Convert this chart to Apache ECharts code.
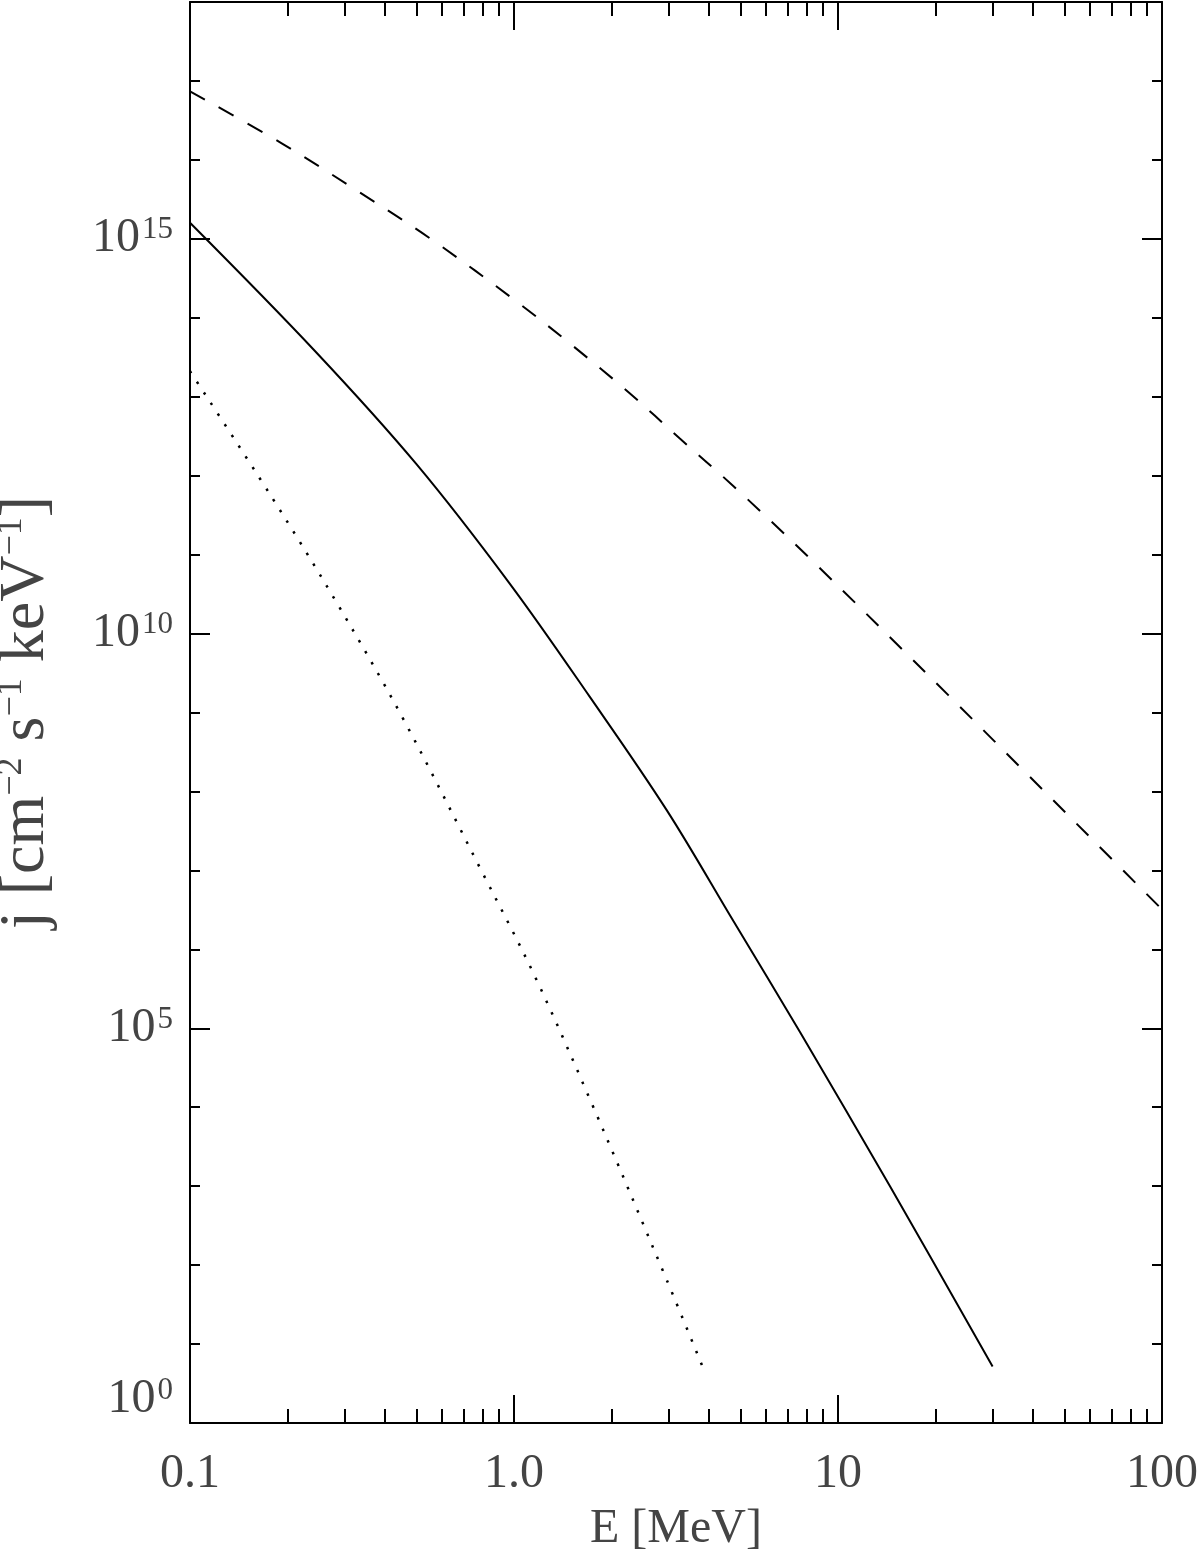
<!DOCTYPE html>
<html><head><meta charset="utf-8">
<script src="https://cdn.jsdelivr.net/npm/echarts@6/dist/echarts.min.js"></script>
<style>html,body{margin:0;padding:0;background:#fff;}#main{width:1200px;height:1558px;}</style>
</head><body><div id="main"></div>
<script>
// ---- data (E in MeV, j in cm^-2 s^-1 keV^-1) ----
const dashedE = [0.1,0.193,0.33,0.557,1.03,1.52,2.28,3.25,4.75,8.2,21.9,37.3,63.8,100];
const dashedJ = [7.4e16,1.6e16,4.0e15,9.8e14,1.55e14,4.4e13,1.1e13,2.95e12,7.4e11,8.9e10,1.66e9,1.86e8,2.04e7,3.2e6];
const solidE = [0.1,0.243,0.5,0.97,1.71,2.96,4.75,7.64,14.5,30];
const solidJ = [1.6e15,3.8e13,1.4e12,4.3e10,1.6e9,5.8e7,2.3e6,8.9e4,980,5.2];
const dottedE = [0.1,0.178,0.283,0.455,0.804,1.15,1.71,2.96,3.89];
const dottedJ = [2.1e13,5.5e11,2.5e10,8.3e8,8.9e6,4.9e5,1.3e4,65,4.3];

// ---- ticks / labels ----
const xMajorTicks = [0.1,1,10,100];
const xTickLabels = ['0.1','1.0','10','100'];
const xMinorTicks = [0.2,0.3,0.4,0.5,0.6,0.7,0.8,0.9,2,3,4,5,6,7,8,9,20,30,40,50,60,70,80,90];
const yMinExp = 0, yMaxExp = 18;
const yLabelExponents = [0,5,10,15];

const FONT = '"Liberation Serif","DejaVu Serif",serif';
const TXT = '#444';
const LINE = {color:'#000', width:2};

const xMinorPos = xMinorTicks.map(v => Math.log10(v));
const xMajorPos = xMajorTicks.map(v => Math.log10(v));

function xLabel(v){
  const i = xMajorPos.findIndex(p => Math.abs(p - v) < 1e-6);
  return i >= 0 ? xTickLabels[i] : '';
}
function yLabel(v){
  const e = Math.round(v);
  return yLabelExponents.includes(e) ? '{b|10}{s|' + e + '}' : '';
}

function tickAxis(pos, extra){
  const horiz = (pos === 'bottom' || pos === 'top');
  const base = {
    type:'value', position:pos,
    min: horiz ? xMajorPos[0] : yMinExp,
    max: horiz ? xMajorPos[xMajorPos.length-1] : yMaxExp,
    splitLine:{show:false}, axisLabel:{show:false},
    axisPointer:{show:false}
  };
  const o = Object.assign(base, extra);
  o.axisLine = Object.assign({show:false}, extra.axisLine || {}, {onZero:false});
  return o;
}

const chart = echarts.init(document.getElementById('main'));
chart.setOption({
  animation:false,
  backgroundColor:'#fff',
  grid:{left:190, right:38, top:2, bottom:135, containLabel:false, outerBoundsMode:'none'},
  xAxis:[
    {type:'log', logBase:10, min:0.1, max:100, position:'bottom',
     axisLine:{show:true, onZero:false, lineStyle:LINE}, axisTick:{show:false}, axisLabel:{show:false},
     splitLine:{show:false}, minorTick:{show:false},
     name:'E [MeV]', nameLocation:'middle', nameGap:82,
     nameTextStyle:{fontFamily:FONT, fontSize:48, color:TXT}},
    tickAxis('bottom', {interval:1, axisTick:{show:true, inside:true, length:28, lineStyle:LINE, customValues:xMajorPos},
      axisLabel:{show:true, formatter:xLabel, fontFamily:FONT, fontSize:48, color:TXT, margin:27,
                 showMinLabel:true, showMaxLabel:true, hideOverlap:false}}),
    tickAxis('bottom', {axisTick:{show:true, inside:true, length:14, lineStyle:LINE, customValues:xMinorPos}}),
    tickAxis('top', {interval:1, axisLine:{show:true, lineStyle:LINE},
      axisTick:{show:true, inside:true, length:28, lineStyle:LINE, customValues:xMajorPos}}),
    tickAxis('top', {axisTick:{show:true, inside:true, length:14, lineStyle:LINE, customValues:xMinorPos}})
  ],
  yAxis:[
    {type:'log', logBase:10, min:Math.pow(10,yMinExp), max:Math.pow(10,yMaxExp), position:'left',
     axisLine:{show:true, onZero:false, lineStyle:LINE}, axisTick:{show:false}, axisLabel:{show:false},
     splitLine:{show:false}, minorTick:{show:false},
     name:'j [cm{s|\u22122} s{s|\u22121} keV{s|\u22121}]', nameLocation:'middle', nameRotate:90, nameGap:132,
     nameTextStyle:{fontFamily:FONT, fontSize:64, color:TXT,
       rich:{s:{fontFamily:FONT, fontSize:36, color:TXT, verticalAlign:'top'}}}},
    tickAxis('left', {interval:1, axisTick:{show:true, inside:true, length:10, lineStyle:LINE},
      axisLabel:{show:true, formatter:yLabel, margin:17, showMinLabel:true, showMaxLabel:true,
        verticalAlignMinLabel:'bottom', hideOverlap:false,
        rich:{b:{fontFamily:FONT, fontSize:48, color:TXT, verticalAlign:'bottom'},
              s:{fontFamily:FONT, fontSize:31, color:TXT, verticalAlign:'top', padding:[0,0,0,2]}}}}),
    tickAxis('left', {axisTick:{show:true, inside:true, length:20, lineStyle:LINE, customValues:yLabelExponents}}),
    tickAxis('right', {interval:1, axisLine:{show:true, lineStyle:LINE},
      axisTick:{show:true, inside:true, length:10, lineStyle:LINE}}),
    tickAxis('right', {axisTick:{show:true, inside:true, length:20, lineStyle:LINE, customValues:yLabelExponents}})
  ],
  series:[
    {type:'line', xAxisIndex:0, yAxisIndex:0, symbol:'none', smooth:0.35, z:5,
     data: dashedE.map((e,i)=>[e, dashedJ[i]]),
     lineStyle:{color:'#000', width:2, type:[17,16]}},
    {type:'line', xAxisIndex:0, yAxisIndex:0, symbol:'none', smooth:0.35, z:5,
     data: solidE.map((e,i)=>[e, solidJ[i]]),
     lineStyle:{color:'#000', width:2, type:'solid'}},
    {type:'line', xAxisIndex:0, yAxisIndex:0, symbol:'none', smooth:0.35, z:5,
     data: dottedE.map((e,i)=>[e, dottedJ[i]]),
     lineStyle:{color:'#000', width:2.5, type:[2.5,10.2]}}
  ]
});
</script></body></html>
